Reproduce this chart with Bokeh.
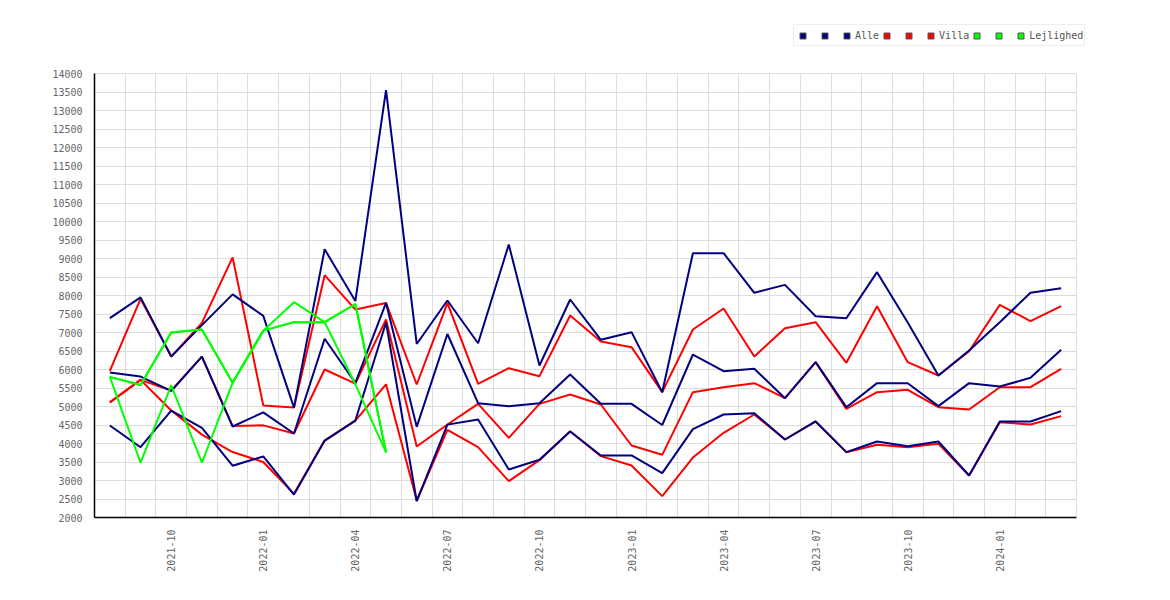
import math
from bokeh.plotting import figure
from bokeh.models import FixedTicker, Legend, LegendItem, Range1d
from bokeh.embed import file_html
from bokeh.resources import INLINE

months = ["2021-08", "2021-09", "2021-10", "2021-11", "2021-12",
          "2022-01", "2022-02", "2022-03", "2022-04", "2022-05", "2022-06",
          "2022-07", "2022-08", "2022-09", "2022-10", "2022-11", "2022-12",
          "2023-01", "2023-02", "2023-03", "2023-04", "2023-05", "2023-06",
          "2023-07", "2023-08", "2023-09", "2023-10", "2023-11", "2023-12",
          "2024-01", "2024-02", "2024-03"]

alle_hi = [7390, 7950, 6350, 7200, 8030, 7450, 4970, 9250, 7850, 13550, 6690,
           7865, 6710, 9378, 6108, 7892, 6802, 7009, 5387, 9144, 9144, 8072,
           8288, 7441, 7387, 8631, 7270, 5838, 6513, 7279, 8072, 8198]
alle_mid = [5920, 5810, 5420, 6350, 4460, 4840, 4270, 6830, 5640, 7800, 4450,
            6960, 5090, 5009, 5090, 5865, 5072, 5072, 4500, 6405, 5955, 6018,
            5225, 6198, 4982, 5631, 5630, 5009, 5631, 5540, 5775, 6531]
alle_lo = [4485, 3900, 4890, 4420, 3400, 3650, 2620, 4080, 4620, 7270, 2440,
           4510, 4650, 3298, 3559, 4324, 3676, 3676, 3199, 4390, 4784, 4820,
           4108, 4595, 3766, 4054, 3928, 4054, 3135, 4595, 4595, 4874]

villa_hi = [5960, 7910, 6350, 7260, 9030, 5030, 4970, 8550, 7620, 7800, 5595,
            7793, 5613, 6036, 5820, 7460, 6757, 6604, 5390, 7081, 7649, 6351,
            7117, 7279, 6180, 7712, 6198, 5838, 6495, 7748, 7306, 7712]
villa_mid = [5110, 5720, 5430, 6350, 4470, 4490, 4270, 6000, 5620, 7350, 3919,
             4514, 5072, 4153, 5072, 5324, 5054, 3946, 3694, 5387, 5523, 5631,
             5225, 6198, 4937, 5387, 5450, 4982, 4919, 5522, 5522, 6018]
villa_lo = [5110, 5720, 4890, 4240, 3770, 3500, 2640, 4080, 4620, 5600, 2460,
            4370, 3901, 2982, 3550, 4330, 3658, 3405, 2577, 3620, 4288, 4784,
            4108, 4595, 3766, 3964, 3900, 3991, 3135, 4577, 4514, 4739]

lejl_hi = [5800, 5580, 7000, 7080, 5640, 7050, 7820, 7280, 7770, 3760]
lejl_mid = [5800, 5580, 7000, 7080, 5640, 7050, 7280, 7280, 7770, 3760]
lejl_lo = [5800, 3480, 5570, 3480, 5640, 7050, 7280, 7280, 5600, 3760]

y_ticks = list(range(2000, 14001, 500))

NAVY = "#000080"
RED = "#ff0000"
GREEN = "#00ff00"
FONT = "DejaVu Sans Mono"

# layout geometry (pixels)
FRAME_TOP_GAP = 73      # distance from figure top to the 14000 gridline
PLOT_H = 444            # pixel height of the 2000..14000 band
PLOT_W = 982            # pixel width of the month band
EXTRA_R = 12            # room on the right for the legend text
FRAME_H = FRAME_TOP_GAP + PLOT_H
y_lo, y_hi = y_ticks[0], y_ticks[-1]
y_end = y_lo + FRAME_H * (y_hi - y_lo) / PLOT_H
x_lo, x_hi = -0.5, len(months) - 0.5
x_end = x_lo + (PLOT_W + EXTRA_R) * (x_hi - x_lo) / PLOT_W

x_all = list(range(len(months)))
x_lejl = x_all[:len(lejl_hi)]
tick_idx = [i for i, m in enumerate(months) if m[5:] in ("01", "04", "07", "10")]
bounds_x = [i - 0.5 for i in range(len(months) + 1)]

p = figure(width=1162, height=592, output_backend="svg", toolbar_location=None,
           title=None,
           x_range=Range1d(x_lo, x_end), y_range=Range1d(y_lo, y_end),
           min_border_left=94, min_border_right=86 - EXTRA_R, min_border_top=0,
           min_border_bottom=75)
p.outline_line_color = None

# axes
p.xaxis.ticker = FixedTicker(ticks=tick_idx)
p.xaxis.major_label_overrides = {i: months[i] for i in tick_idx}
p.xaxis.major_label_orientation = math.pi / 2
p.xaxis.bounds = (x_lo, x_hi)
p.yaxis.ticker = FixedTicker(ticks=y_ticks)
p.yaxis.bounds = (y_lo, y_hi)
for ax in (p.xaxis, p.yaxis):
    ax.major_tick_line_color = None
    ax.minor_tick_line_color = None
    ax.axis_line_color = "black"
    ax.axis_line_width = 1.5
    ax.major_label_text_font = FONT
    ax.major_label_text_font_size = "10px"
    ax.major_label_text_color = "#666666"
    ax.major_label_standoff = 6

xg = p.xgrid[0]
yg = p.ygrid[0]
yg.ticker = FixedTicker(ticks=y_ticks)
yg.grid_line_color = "#dddddd"
if "cross_bounds" in xg.properties():
    xg.ticker = FixedTicker(ticks=bounds_x)
    xg.cross_bounds = (y_lo, y_hi)
    xg.grid_line_color = "#dddddd"
    yg.cross_bounds = (x_lo, x_hi)
else:
    xg.visible = False
    p.segment(x0=bounds_x, y0=[y_lo] * len(bounds_x), x1=bounds_x,
              y1=[y_hi] * len(bounds_x), line_color="#dddddd", line_width=1,
              level="underlay")

# lines
for ys in (villa_hi, villa_mid, villa_lo):
    p.line(x_all, ys, line_color=RED, line_width=2)
for ys in (alle_hi, alle_mid, alle_lo):
    p.line(x_all, ys, line_color=NAVY, line_width=2)
for ys in (lejl_hi, lejl_mid, lejl_lo):
    p.line(x_lejl, ys, line_color=GREEN, line_width=2)

# legend squares (zero-size markers on the series, drawn only in the legend)
groups = [(NAVY, "Alle", x_all, (alle_hi, alle_mid, alle_lo)),
          (RED, "Villa", x_all, (villa_hi, villa_mid, villa_lo)),
          (GREEN, "Lejlighed", x_lejl, (lejl_hi, lejl_mid, lejl_lo))]
items = []
for color, name, xs, series in groups:
    for k, ys in enumerate(series):
        r = p.scatter(x=xs, y=ys, size=0, marker="square", fill_color=color,
                      line_color="#555555", line_width=1)
        items.append(LegendItem(label=name if k == 2 else "", renderers=[r]))

legend = Legend(items=items, orientation="horizontal",
                location=(699, FRAME_H - 46),
                glyph_width=15, glyph_height=15, label_standoff=1,
                label_width=6, label_height=18, spacing=0, padding=1,
                margin=0, border_line_color="#dddddd",
                background_fill_color="white",
                label_text_font=FONT, label_text_font_size="10px",
                label_text_color="#555555")
p.add_layout(legend, "center")

open("out.html", "w").write(file_html(p, INLINE))
